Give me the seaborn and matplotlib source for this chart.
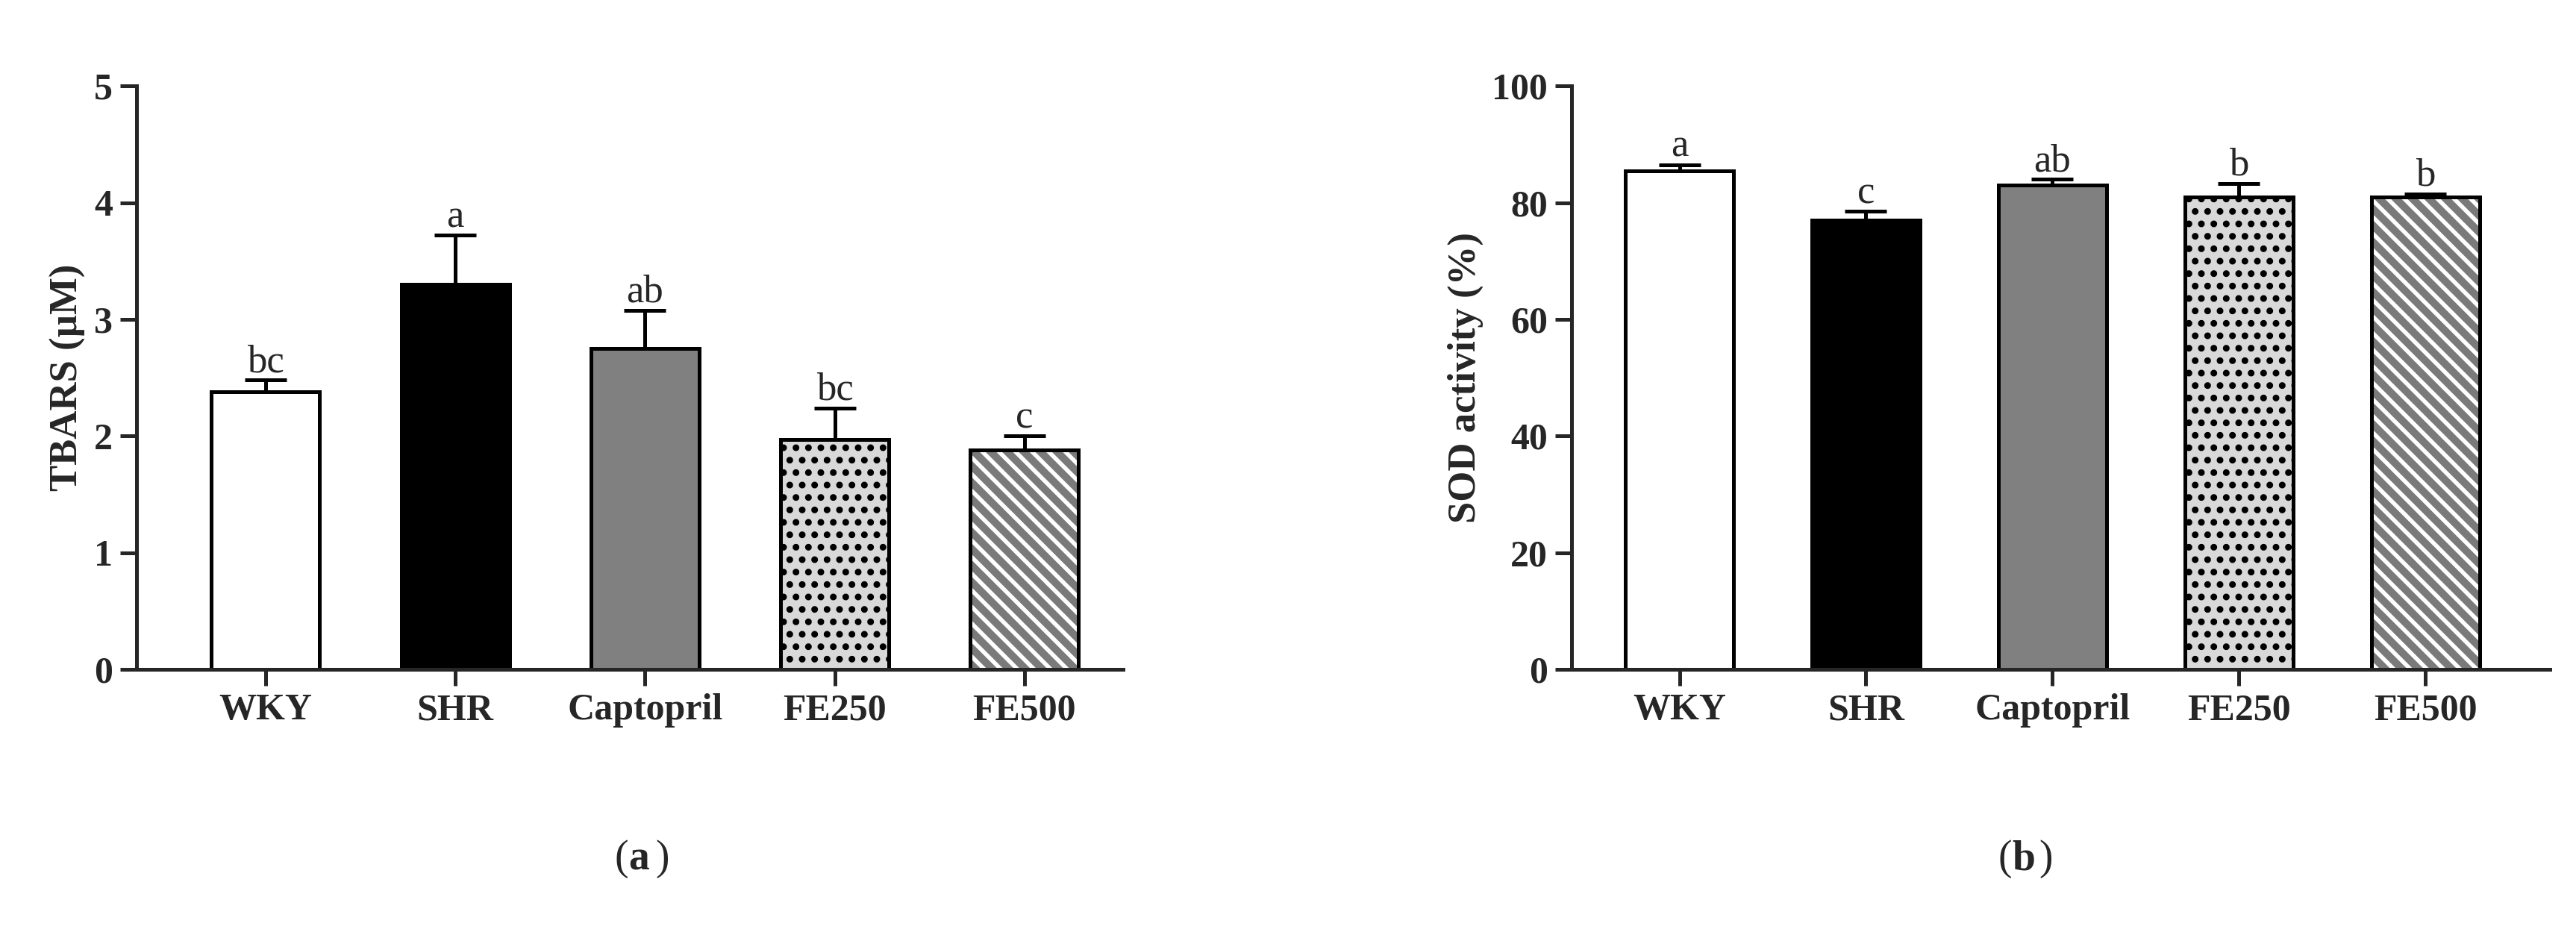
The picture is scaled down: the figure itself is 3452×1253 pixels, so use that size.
import matplotlib
matplotlib.use("Agg")
import matplotlib.pyplot as plt
import seaborn as sns
import pandas as pd

groups = ["WKY", "SHR", "Captopril", "FE250", "FE500"]
tbars = [2.38, 3.30, 2.75, 1.97, 1.88]
tbars_err = [0.10, 0.42, 0.33, 0.27, 0.12]
tbars_letters = ["bc", "a", "ab", "bc", "c"]
sod = [85.5, 77.0, 83.0, 81.0, 81.0]
sod_err = [1.0, 1.5, 1.0, 2.3, 0.5]
sod_letters = ["a", "c", "ab", "b", "b"]

colors = ["white", "black", "#808080", "#d9d9d9", "#7a7a7a"]
hatches = [None, None, None, "..", "\\\\\\"]

sns.set_style("white")
plt.rcParams["font.family"] = ["Liberation Serif", "DejaVu Serif"]
plt.rcParams["hatch.linewidth"] = 2.0

fig = plt.figure(figsize=(17.26, 6.265), dpi=200)
axa = fig.add_axes([0.053, 0.284, 0.383, 0.624])
axb = fig.add_axes([0.610, 0.284, 0.380, 0.624])

def panel(ax, vals, errs, letters, ylim, step, ylabel, xlim, width, off):
    df = pd.DataFrame({"g": groups, "v": vals})
    sns.barplot(data=df, x="g", y="v", hue="g", palette=colors, ax=ax,
                width=width, edgecolor="black", linewidth=1.8, legend=False)
    for i, p in enumerate(ax.patches):
        if hatches[i]:
            p.set_hatch(hatches[i])
            p.set_edgecolor("black")
            if i == 4:
                p._hatch_color = (1, 1, 1, 1)
    for i, (v, e, l) in enumerate(zip(vals, errs, letters)):
        ax.errorbar(i, v, yerr=[[0], [e]], color="black", capsize=10,
                    capthick=1.8, elinewidth=1.8)
        ax.text(i, v + e + off, l, ha="center", va="bottom", fontsize=19)
    ax.set_ylim(*ylim)
    ax.set_xlim(*xlim)
    ax.set_yticks(range(ylim[0], ylim[1] + 1, step))
    ax.set_xlabel("")
    ax.set_ylabel(ylabel, fontsize=19, fontweight="bold")
    for s in ["top", "right"]:
        ax.spines[s].set_visible(False)
    for s in ["left", "bottom"]:
        ax.spines[s].set_linewidth(1.8)
    ax.tick_params(axis="both", direction="out", length=8, width=1.8,
                   labelsize=18, bottom=True, left=True)
    for t in ax.get_xticklabels() + ax.get_yticklabels():
        t.set_fontweight("bold")

panel(axa, tbars, tbars_err, tbars_letters, (0, 5), 1, "TBARS (µM)",
      (-0.68, 4.52), 0.57, 0.0)
panel(axb, sod, sod_err, sod_letters, (0, 100), 20, "SOD activity (%)",
      (-0.58, 4.67), 0.58, 0.0)

fig.text(0.244, 0.07, "(", fontsize=20, ha="right")
fig.text(0.244, 0.07, "a", fontsize=20, fontweight="bold", ha="left")
fig.text(0.2545, 0.07, ")", fontsize=20)
fig.text(0.781, 0.07, "(", fontsize=20, ha="right")
fig.text(0.781, 0.07, "b", fontsize=20, fontweight="bold", ha="left")
fig.text(0.7915, 0.07, ")", fontsize=20)

fig.savefig("out.png", dpi=200)
